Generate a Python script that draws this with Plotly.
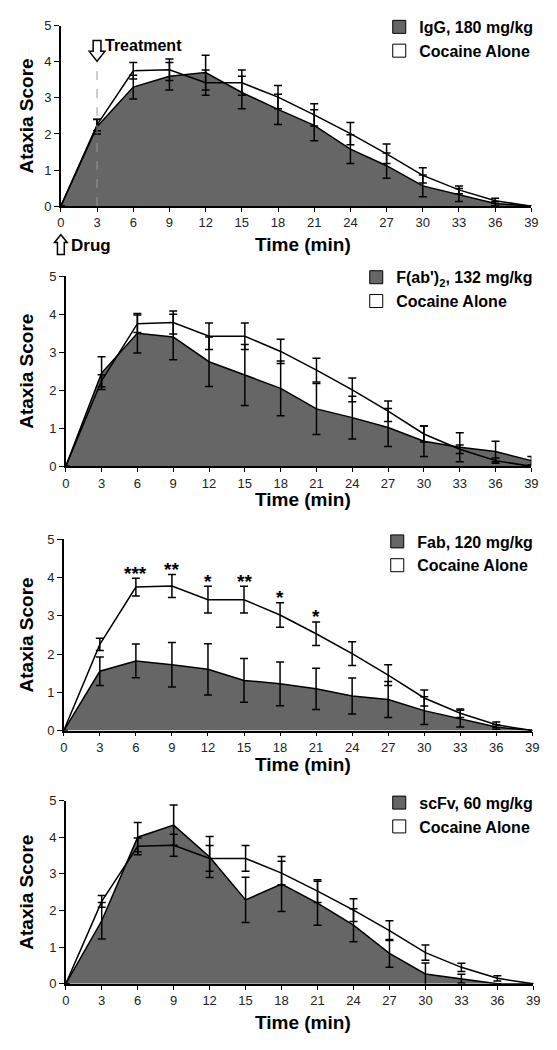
import plotly.graph_objects as go

# ---------------- data ----------------
time_min = [0, 3, 6, 9, 12, 15, 18, 21, 24, 27, 30, 33, 36, 39]
time_ticks = [str(t) for t in time_min]

cocaine = [0, 2.25, 3.75, 3.78, 3.42, 3.42, 3.02, 2.53, 2.01, 1.45, 0.85, 0.45, 0.15, 0]
cocaine_err = [0, 0.16, 0.23, 0.30, 0.35, 0.35, 0.32, 0.31, 0.31, 0.27, 0.21, 0.11, 0.07, 0]

igg = [0, 2.2, 3.3, 3.6, 3.7, 3.15, 2.68, 2.24, 1.58, 1.12, 0.56, 0.31, 0.07, 0]
igg_err = [0, 0.2, 0.33, 0.38, 0.48, 0.45, 0.42, 0.43, 0.40, 0.35, 0.30, 0.18, 0.06, 0]

fab2 = [0, 2.45, 3.5, 3.4, 2.75, 2.4, 2.05, 1.51, 1.28, 1.02, 0.66, 0.5, 0.39, 0.15]
fab2_err = [0, 0.43, 0.52, 0.6, 0.65, 0.8, 0.72, 0.67, 0.56, 0.5, 0.4, 0.38, 0.27, 0.11]

fab = [0, 1.55, 1.82, 1.72, 1.6, 1.31, 1.22, 1.09, 0.9, 0.81, 0.52, 0.31, 0.09, 0]
fab_err = [0, 0.37, 0.44, 0.58, 0.67, 0.57, 0.57, 0.54, 0.47, 0.47, 0.36, 0.22, 0.06, 0]

scfv = [0, 1.72, 4.0, 4.33, 3.46, 2.29, 2.72, 2.2, 1.6, 0.83, 0.27, 0.14, 0, 0]
scfv_err = [0, 0.5, 0.4, 0.55, 0.56, 0.62, 0.75, 0.6, 0.45, 0.38, 0.3, 0.12, 0, 0]

fab_stars = ["", "", "***", "**", "*", "**", "*", "*", "", "", "", "", "", ""]

treatment_names = ["IgG, 180 mg/kg", "F(ab')<sub>2</sub>, 132 mg/kg",
                   "Fab, 120 mg/kg", "scFv, 60 mg/kg"]
reference_name = "Cocaine Alone"
drug_time = 0
treatment_time = 3

# ---------------- layout geometry (pixels) ----------------
W, H = 557, 1050
def px(p): return p / W
def py(p): return 1 - p / H

panels = [
    dict(vals=igg, err=igg_err, x0=58, x1=538, top=19, bot=202, tgap=39),
    dict(vals=fab2, err=fab2_err, x0=63, x1=538, top=273, bot=466, tgap=34),
    dict(vals=fab, err=fab_err, x0=61, x1=539, top=540, bot=734, tgap=34),
    dict(vals=scfv, err=scfv_err, x0=63, x1=540, top=805, bot=991, tgap=39),
]
legend_tops = [3, 257, 525, 790]

GRAY = "#666666"
FONT = "Liberation Sans"

fig = go.Figure()
annotations = []
shapes = []

for i, p in enumerate(panels, start=1):
    sfx = "" if i == 1 else str(i)
    xa, ya = "x" + sfx, "y" + sfx
    lg = "legend" + sfx
    fig.add_trace(go.Scatter(
        x=time_min, y=p["vals"], xaxis=xa, yaxis=ya, mode="lines",
        fill="tozeroy", fillcolor=GRAY, line=dict(color="black", width=1.5),
        error_y=dict(type="data", array=p["err"], color="black", thickness=1.5, width=4),
        showlegend=False, cliponaxis=False, hoverinfo="x+y"))
    fig.add_trace(go.Scatter(
        x=time_min, y=cocaine, xaxis=xa, yaxis=ya, mode="lines",
        line=dict(color="black", width=1.5),
        error_y=dict(type="data", array=cocaine_err, color="black", thickness=1.5, width=4),
        showlegend=False, cliponaxis=False, hoverinfo="x+y"))
    fig.add_trace(go.Scatter(
        x=[None], y=[None], xaxis=xa, yaxis=ya, mode="markers",
        marker=dict(symbol="square", size=13, color=GRAY, line=dict(color="black", width=1)),
        name=treatment_names[i - 1], legend=lg, showlegend=True))
    fig.add_trace(go.Scatter(
        x=[None], y=[None], xaxis=xa, yaxis=ya, mode="markers",
        marker=dict(symbol="square", size=13, color="white", line=dict(color="black", width=1)),
        name=reference_name, legend=lg, showlegend=True))

    axis_common = dict(showline=True, linecolor="black", linewidth=1.5, showgrid=False,
                       zeroline=False, ticks="outside", tickcolor="black", tickwidth=1,
                       tickfont=dict(family=FONT, size=13, color="#222"))
    fig.update_layout({
        "xaxis" + sfx: dict(domain=[px(p["x0"]), px(p["x1"])], range=[0, 39],
                            tickvals=time_min, ticktext=time_ticks, ticklen=4,
                            anchor=ya, **axis_common),
        "yaxis" + sfx: dict(domain=[py(p["bot"]), py(p["top"])], range=[0, 5],
                            dtick=1, ticklen=5, anchor=xa, **axis_common),
        lg: dict(x=px(545), xanchor="right", y=py(legend_tops[i - 1]), yanchor="top",
                 bgcolor="rgba(0,0,0,0)", itemwidth=30, tracegroupgap=0,
                 font=dict(family=FONT, size=16, color="black", weight="bold")),
    })
    annotations.append(dict(text="Ataxia Score", textangle=-90, xref="paper", yref="paper",
                            x=px(23), y=py((p["top"] + p["bot"]) / 2), showarrow=False,
                            xanchor="center", yanchor="middle",
                            font=dict(family=FONT, size=19, color="black", weight="bold")))
    annotations.append(dict(text="Time (min)", xref="paper", yref="paper",
                            x=px(305), y=py(p["bot"] + p["tgap"]), showarrow=False,
                            xanchor="center", yanchor="middle",
                            font=dict(family=FONT, size=19, color="black", weight="bold")))

# significance stars (Fab panel)
for t, c, e, s in zip(time_min, cocaine, cocaine_err, fab_stars):
    if s:
        annotations.append(dict(text=s, x=t, y=c + e, xref="x3", yref="y3", showarrow=False,
                                xanchor="center", yanchor="middle", yshift=5,
                                font=dict(family=FONT, size=19, color="black", weight="bold")))

# treatment / drug markers (panel 1)
p1 = panels[0]
def time_px(t):
    return p1["x0"] + t * (p1["x1"] - p1["x0"]) / 39

def block_arrow(cx, tail, tip, shaft_half, head_half, head_len):
    d = 1 if tip > tail else -1
    neck = tip - d * head_len
    pts = [(cx - shaft_half, tail), (cx + shaft_half, tail), (cx + shaft_half, neck),
           (cx + head_half, neck), (cx, tip), (cx - head_half, neck), (cx - shaft_half, neck)]
    return "M " + " L ".join(f"{px(x):.5f},{py(y):.5f}" for x, y in pts) + " Z"

shapes.append(dict(type="line", xref="x", yref="y", x0=treatment_time, x1=treatment_time,
                   y0=0, y1=4, line=dict(color="#999999", width=1, dash="dash")))
shapes.append(dict(type="path", xref="paper", yref="paper",
                   path=block_arrow(time_px(treatment_time), 34, 55, 4, 8, 10),
                   fillcolor="white", line=dict(color="black", width=1.5)))
shapes.append(dict(type="path", xref="paper", yref="paper",
                   path=block_arrow(time_px(drug_time), 251, 231, 3.5, 6.5, 8),
                   fillcolor="white", line=dict(color="black", width=1.5)))
annotations.append(dict(text="Treatment", x=px(101), xref="paper", y=py(39), yref="paper",
                        showarrow=False, xanchor="left", yanchor="middle",
                        font=dict(family=FONT, size=16, color="black", weight="bold")))
annotations.append(dict(text="Drug", x=px(66), xref="paper", y=py(242), yref="paper",
                        showarrow=False, xanchor="left", yanchor="middle",
                        font=dict(family=FONT, size=17, color="black", weight="bold")))

fig.update_layout(width=W, height=H, margin=dict(l=0, r=0, t=0, b=0),
                  paper_bgcolor="white", plot_bgcolor="white",
                  annotations=annotations, shapes=shapes, showlegend=True)

fig.write_html("out.html", config={"displayModeBar": False},
               post_script="document.body.style.margin='0';document.body.style.overflow='hidden';")
